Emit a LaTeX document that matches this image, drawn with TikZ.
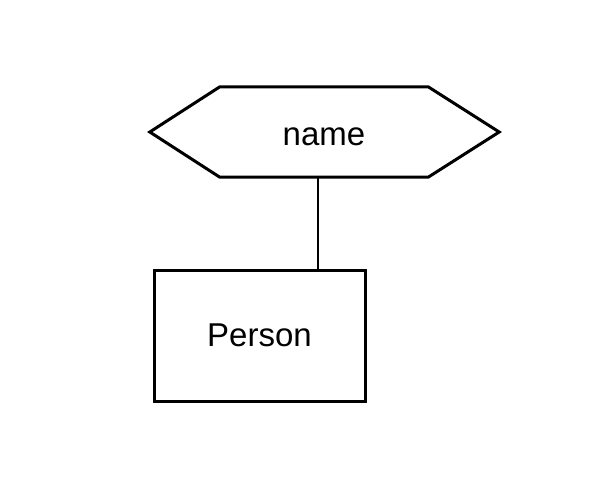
\documentclass[tikz,border=0pt]{standalone}
\usepackage{fontspec}
\setmainfont{Liberation Sans}
\usetikzlibrary{calc}
\begin{document}
\begin{tikzpicture}[x=1pt,y=-1pt,
  shapeline/.style={draw=black,line width=3pt,line join=miter},
  label text/.style={font=\fontsize{33}{40}\selectfont,inner sep=0pt},
  link/.style={draw=black,line width=1.8pt}]
  \useasboundingbox[fill=white] (0,0) rectangle (590,480);
  % attribute: hexagon around "name"
  \node[label text,minimum width=208pt,minimum height=90pt,text height=26pt,text depth=0pt] (name) at (324,132) {name};
  \draw[shapeline] (name.north west) -- (name.north east)
    -- ($(name.east)+(71,0)$) -- (name.south east) -- (name.south west)
    -- ($(name.west)+(-70,0)$) -- cycle;
  % entity: rectangle "Person"
  \node[label text,shapeline,minimum width=211pt,minimum height=131pt] (person) at (259.5,335.5) {Person};
  % connector between attribute and entity
  \coordinate (lx) at (318,0);
  \draw[link] (name.south -| lx) -- (person.north -| lx);
\end{tikzpicture}
\end{document}
